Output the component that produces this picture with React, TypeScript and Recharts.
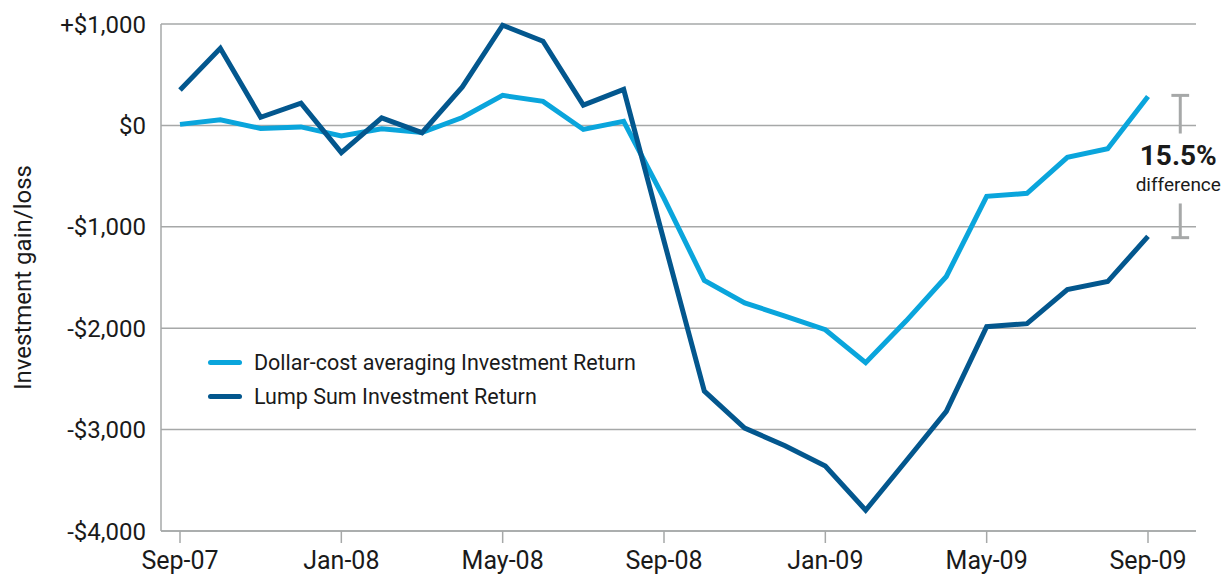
import { LineChart, Line, XAxis, YAxis, CartesianGrid, ReferenceLine, ReferenceDot } from 'recharts';

const months = [
  'Sep-07', 'Oct-07', 'Nov-07', 'Dec-07', 'Jan-08', 'Feb-08', 'Mar-08', 'Apr-08', 'May-08',
  'Jun-08', 'Jul-08', 'Aug-08', 'Sep-08', 'Oct-08', 'Nov-08', 'Dec-08', 'Jan-09', 'Feb-09',
  'Mar-09', 'Apr-09', 'May-09', 'Jun-09', 'Jul-09', 'Aug-09', 'Sep-09',
];

const dcaReturn = [
  10, 55, -30, -15, -105, -33, -70, 78, 296, 237, -40, 40, -720, -1530, -1750, -1880,
  -2015, -2340, -1930, -1490, -700, -670, -315, -230, 285,
];

const lumpReturn = [
  350, 760, 80, 220, -268, 74, -72, 380, 988, 830, 200, 355, -1140, -2620, -2985, -3160,
  -3360, -3795, -3310, -2820, -1985, -1955, -1620, -1540, -1095,
];

const xTicks = [0, 4, 8, 12, 16, 20, 24];
const yTicks = [1000, 0, -1000, -2000, -3000, -4000];

const seriesNames = ['Dollar-cost averaging Investment Return', 'Lump Sum Investment Return'];
const DCA_COLOR = '#0aa5dc';
const LUMP_COLOR = '#03578e';
const GRID = '#a6a8a8';
const FONT = 'Roboto, sans-serif';

const data = months.map((m, i) => ({ i, month: m, dca: dcaReturn[i], lump: lumpReturn[i] }));

const fmtY = (v: number) => {
  if (v === 0) return '$0';
  const s = '$' + Math.abs(v).toLocaleString('en-US');
  return v > 0 ? '+' + s : '-' + s;
};

// legend drawn as plain html over the chart so it doesn't eat plot space
function LegendBox() {
  const items = [
    { name: seriesNames[0], color: DCA_COLOR },
    { name: seriesNames[1], color: LUMP_COLOR },
  ];
  return (
    <div style={{ position: 'absolute', left: 208, top: 345, fontFamily: FONT }}>
      {items.map((it) => (
        <div key={it.name} style={{ display: 'flex', alignItems: 'center', height: 34 }}>
          <div style={{ width: 34, height: 5, borderRadius: 3, background: it.color, marginRight: 12 }} />
          <span style={{ fontSize: 21.5, color: '#1a1a1a' }}>{it.name}</span>
        </div>
      ))}
    </div>
  );
}

// bracket annotation between the two final values
const bracketX = 24.8;
const capHalf = 0.22;

export default function App() {
  return (
    <div style={{ position: 'absolute', left: 0, top: 0, width: 1229, height: 582, background: '#fff' }}>
      <LineChart width={1229} height={582} data={data} margin={{ top: 24, right: 33, left: 0, bottom: 0 }}>
        <CartesianGrid vertical={false} stroke={GRID} strokeWidth={1.5} />
        <XAxis
          dataKey="i"
          type="number"
          domain={[0, 24]}
          ticks={xTicks}
          tickFormatter={(v: number) => months[v]}
          padding={{ left: 19, right: 48 }}
          height={51}
          stroke={GRID}
          strokeWidth={1.5}
          tickSize={12}
          tickMargin={8}
          tick={{ fill: '#1a1a1a', fontSize: 25, fontFamily: FONT }}
        />
        <YAxis
          domain={[-4000, 1000]}
          ticks={yTicks}
          tickFormatter={fmtY}
          width={161}
          stroke={GRID}
          strokeWidth={1.5}
          tickLine={false}
          tickSize={0}
          tickMargin={15}
          tick={{ fill: '#1a1a1a', fontSize: 24, fontFamily: FONT }}
          label={{
            value: 'Investment gain/loss',
            angle: -90,
            position: 'insideLeft',
            offset: 22,
            style: { textAnchor: 'middle', fill: '#1a1a1a', fontSize: 24, fontFamily: FONT },
          }}
        />
        <Line
          dataKey="dca"
          name={seriesNames[0]}
          stroke={DCA_COLOR}
          strokeWidth={5}
          dot={false}
          isAnimationActive={false}
        />
        <Line
          dataKey="lump"
          name={seriesNames[1]}
          stroke={LUMP_COLOR}
          strokeWidth={5}
          dot={false}
          isAnimationActive={false}
        />
        {/* difference bracket */}
        <ReferenceLine ifOverflow="visible" stroke={GRID} strokeWidth={3} segment={[{ x: bracketX, y: 296 }, { x: bracketX, y: -80 }]} />
        <ReferenceLine ifOverflow="visible" stroke={GRID} strokeWidth={3} segment={[{ x: bracketX - capHalf, y: 296 }, { x: bracketX + capHalf, y: 296 }]} />
        <ReferenceLine ifOverflow="visible" stroke={GRID} strokeWidth={3} segment={[{ x: bracketX, y: -770 }, { x: bracketX, y: -1107 }]} />
        <ReferenceLine ifOverflow="visible" stroke={GRID} strokeWidth={3} segment={[{ x: bracketX - capHalf, y: -1107 }, { x: bracketX + capHalf, y: -1107 }]} />
        <ReferenceDot
          x={bracketX}
          y={-420}
          ifOverflow="visible"
          shape={(p: any) => (
            <g fontFamily={FONT}>
              <text x={p.cx - 2} y={p.cy - 3} textAnchor="middle" fontSize={28} fontWeight={700} fill="#1a1a1a">
                15.5%
              </text>
              <text x={p.cx - 2} y={p.cy + 23} textAnchor="middle" fontSize={19} fill="#1a1a1a">
                difference
              </text>
            </g>
          )}
        />
      </LineChart>
      <LegendBox />
    </div>
  );
}
